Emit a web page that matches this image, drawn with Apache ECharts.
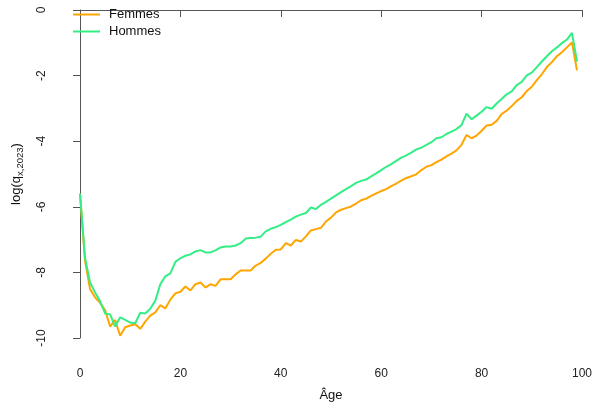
<!DOCTYPE html>
<html>
<head>
<meta charset="utf-8">
<script src="https://cdn.jsdelivr.net/npm/echarts@6/dist/echarts.min.js"></script>
<style>
html,body{margin:0;padding:0;background:#fff;}
#chart{width:595px;height:407px;}
</style>
</head>
<body>
<div id="chart"></div>
<script>
// Ages 0..99
const ages = Array.from({length: 100}, (_, i) => i);

const femmes = [
  -5.60, -7.65, -8.51, -8.76, -8.93, -9.15, -9.65, -9.45, -9.93, -9.67,
  -9.62, -9.58, -9.72, -9.50, -9.32, -9.22, -9.00, -9.10, -8.83, -8.64,
  -8.59, -8.43, -8.55, -8.36, -8.31, -8.46, -8.36, -8.41, -8.21, -8.21,
  -8.21, -8.06, -7.94, -7.94, -7.94, -7.79, -7.71, -7.58, -7.43, -7.31,
  -7.30, -7.11, -7.18, -7.01, -7.06, -6.90, -6.72, -6.68, -6.64, -6.45,
  -6.33, -6.17, -6.09, -6.04, -5.99, -5.90, -5.80, -5.75, -5.67, -5.59,
  -5.52, -5.46, -5.37, -5.29, -5.20, -5.12, -5.07, -5.01, -4.88, -4.78,
  -4.73, -4.64, -4.56, -4.46, -4.38, -4.28, -4.11, -3.81, -3.91, -3.83,
  -3.68, -3.52, -3.50, -3.38, -3.17, -3.07, -2.93, -2.77, -2.66, -2.47,
  -2.34, -2.14, -1.96, -1.74, -1.59, -1.41, -1.29, -1.14, -0.99, -1.84
];

const hommes = [
  -5.60, -7.55, -8.31, -8.61, -8.88, -9.25, -9.28, -9.65, -9.37, -9.45,
  -9.53, -9.55, -9.23, -9.25, -9.11, -8.86, -8.36, -8.12, -8.03, -7.68,
  -7.57, -7.49, -7.45, -7.36, -7.32, -7.39, -7.39, -7.33, -7.24, -7.21,
  -7.21, -7.18, -7.11, -6.97, -6.95, -6.94, -6.91, -6.75, -6.67, -6.62,
  -6.55, -6.47, -6.39, -6.30, -6.24, -6.19, -6.02, -6.07, -5.94, -5.85,
  -5.75, -5.65, -5.55, -5.46, -5.37, -5.27, -5.21, -5.17, -5.07, -4.98,
  -4.88, -4.78, -4.70, -4.60, -4.50, -4.43, -4.35, -4.25, -4.20, -4.11,
  -4.03, -3.91, -3.88, -3.78, -3.71, -3.63, -3.51, -3.16, -3.33, -3.22,
  -3.10, -2.96, -3.01, -2.85, -2.71, -2.57, -2.48, -2.29, -2.19, -1.99,
  -1.91, -1.74, -1.57, -1.41, -1.26, -1.14, -1.01, -0.90, -0.70, -1.57
];

const seriesNames = ['Femmes', 'Hommes'];
const xTicks = [0, 20, 40, 60, 80, 100];
const yTicks = [-10, -8, -6, -4, -2, 0];

const FONT = '"Liberation Sans", Arial, sans-serif';
const AX = '#555';

const chart = echarts.init(document.getElementById('chart'), null, {renderer: 'canvas'});
chart.setOption({
  animation: false,
  backgroundColor: '#fff',
  grid: {left: 80, right: 9, top: 10, bottom: 62, containLabel: false},
  legend: {
    left: 68, top: 3, orient: 'vertical',
    itemWidth: 27, itemHeight: 2, itemGap: 4, icon: 'rect',
    textStyle: {fontFamily: FONT, fontSize: 13, color: '#111', padding: [0, 0, 0, 4]},
    data: seriesNames
  },
  xAxis: {
    type: 'value', min: xTicks[0], max: xTicks[xTicks.length - 1], interval: 20,
    offset: 18,
    name: 'Âge', nameLocation: 'middle', nameGap: 33,
    nameTextStyle: {fontFamily: FONT, fontSize: 13, color: '#111'},
    axisLine: {show: true, lineStyle: {color: AX, width: 1}},
    axisTick: {show: true, inside: false, length: 7, lineStyle: {color: AX}},
    axisLabel: {fontFamily: FONT, fontSize: 12, color: '#222', margin: 12},
    splitLine: {show: false}
  },
  yAxis: {
    type: 'value', min: yTicks[0], max: yTicks[yTicks.length - 1], interval: 2,
    offset: 20,
    name: '{a|log(q}{s|x,2023}{a|)}', nameLocation: 'middle', nameGap: 35, nameRotate: 90,
    nameTextStyle: {
      fontFamily: FONT, fontSize: 13, color: '#111',
      rich: {
        a: {fontFamily: FONT, fontSize: 13, color: '#111'},
        s: {fontFamily: FONT, fontSize: 9.5, color: '#111', verticalAlign: 'bottom', padding: [7, 0, 0, 0]}
      }
    },
    axisLine: {show: true, lineStyle: {color: AX, width: 1}},
    axisTick: {show: true, inside: false, length: 7, lineStyle: {color: AX}},
    axisLabel: {fontFamily: FONT, fontSize: 12, color: '#222', rotate: 90, margin: 12},
    splitLine: {show: false}
  },
  series: [
    {
      name: seriesNames[0], type: 'line', showSymbol: false, symbol: 'none',
      data: ages.map((a, i) => [a, femmes[i]]),
      lineStyle: {color: '#FFA500', width: 2}, itemStyle: {color: '#FFA500'}
    },
    {
      name: seriesNames[1], type: 'line', showSymbol: false, symbol: 'none',
      data: ages.map((a, i) => [a, hommes[i]]),
      lineStyle: {color: '#33EE85', width: 2}, itemStyle: {color: '#33EE85'}
    }
  ]
});
</script>
</body>
</html>
